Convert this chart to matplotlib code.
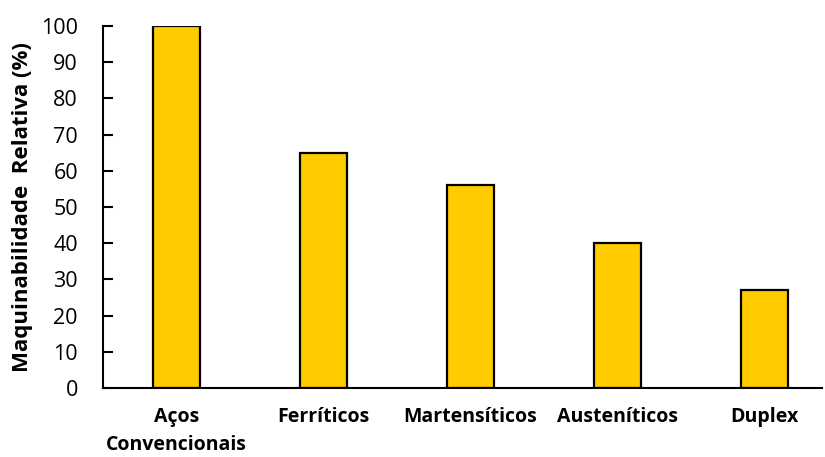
import matplotlib
matplotlib.use('Agg')
import matplotlib.pyplot as plt

categorias = ['Aços\nConvencionais', 'Ferríticos', 'Martensíticos', 'Austeníticos', 'Duplex']
maquinabilidade = [100, 65, 56, 40, 27]

plt.rcParams['font.family'] = ['Open Sans', 'DejaVu Sans']

fig = plt.figure(figsize=(8.25, 4.57), dpi=100)
ax = fig.add_axes([103 / 825, 69 / 457, 719 / 825, 362 / 457])

x = range(len(categorias))
ax.bar(x, maquinabilidade, width=0.315, color='#FFCC00', edgecolor='black', linewidth=1.6)

ax.set_xlim(-0.5, 4.39)
ax.set_ylim(0, 100)
ax.set_yticks(range(0, 101, 10))
ax.set_xticks(list(x))
ax.set_xticklabels(categorias, fontweight='bold', fontsize=14, linespacing=1.5)
ax.tick_params(axis='x', length=0, pad=14)
ax.tick_params(axis='y', direction='in', length=7, width=1.5, labelsize=15.5, pad=18)

ax.spines['top'].set_visible(False)
ax.spines['right'].set_visible(False)
ax.spines['left'].set_linewidth(1.5)
ax.spines['bottom'].set_linewidth(1.5)

ax.set_ylabel('Maquinabilidade  Relativa (%)', fontweight='bold', fontsize=16, labelpad=6)

fig.savefig('out.png', dpi=100)
